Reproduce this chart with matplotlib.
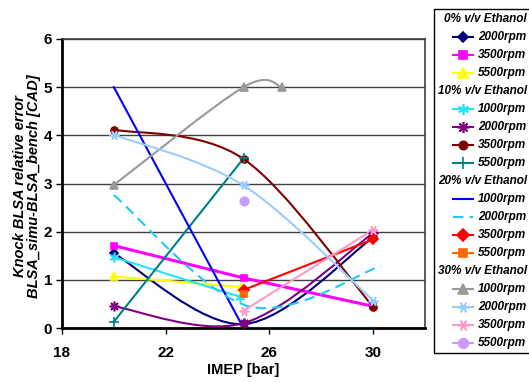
import numpy as np
import matplotlib
matplotlib.use("Agg")
import matplotlib.pyplot as plt
from matplotlib.path import Path
from matplotlib.patches import PathPatch, Rectangle
from matplotlib.lines import Line2D

plt.rcParams['font.family'] = ['Liberation Sans', 'DejaVu Sans']

# IMEP [bar] positions
imep3 = [20, 25, 30]
imep2_low = [20, 25]
imep2_high = [25, 30]
imep1 = [25]

# 0% v/v Ethanol
e0_2000 = [1.55, 0.08, 1.88]
e0_3500 = [1.71, 1.04, 0.45]
e0_5500 = [1.07, 0.85]
# 10% v/v Ethanol
e10_1000 = [1.47, 0.65]
e10_2000 = [0.45, 0.10, 1.97]
e10_3500 = [4.12, 3.51, 0.44]
e10_5500 = [0.13, 3.52]
# 20% v/v Ethanol
e20_1000 = [5.0, 0.0, 0.0]
e20_2000_x = [20, 25.2, 30.3]
e20_2000 = [2.76, 0.45, 1.29]
e20_3500 = [0.79, 1.84]
e20_5500 = [0.70]
# 30% v/v Ethanol
e30_1000_x = [20, 25, 26.5]
e30_1000 = [2.97, 5.0, 5.0]
e30_2000 = [4.01, 2.96, 0.57]
e30_3500 = [0.36, 2.04]
e30_5500 = [2.63]

groups = ['0% v/v Ethanol', '10% v/v Ethanol', '20% v/v Ethanol', '30% v/v Ethanol']

# (group, label, x, y, color, linestyle, marker, marker size, smooth)
series = [
    (0, '2000rpm', imep3, e0_2000, '#000080', '-', 'D', 4.5, True),
    (0, '3500rpm', imep3, e0_3500, '#FF00FF', '-', 's', 5, False),
    (0, '5500rpm', [20, 24.9], e0_5500, '#FFFF00', '-', '^', 6, False),
    (1, '1000rpm', [20, 24.85], e10_1000, '#22E4F2', '-', (6, 2, 0), 7, False),
    (1, '2000rpm', imep3, e10_2000, '#800080', '-', (8, 2, 0), 7, True),
    (1, '3500rpm', imep3, e10_3500, '#800000', '-', 'o', 5, True),
    (1, '5500rpm', imep2_low, e10_5500, '#008080', '-', '+', 7, False),
    (2, '1000rpm', imep3, e20_1000, '#0000FF', '-', None, 0, False),
    (2, '2000rpm', e20_2000_x, e20_2000, '#22C8F5', (0, (5, 3)), None, 0, True),
    (2, '3500rpm', imep2_high, e20_3500, '#FF0000', '-', 'D', 5, False),
    (2, '5500rpm', imep1, e20_5500, '#FF6600', '-', 's', 5, False),
    (3, '1000rpm', e30_1000_x, e30_1000, '#999999', '-', '^', 6, True),
    (3, '2000rpm', imep3, e30_2000, '#99CCFF', '-', (6, 2, 90), 7, True),
    (3, '3500rpm', imep2_high, e30_3500, '#FF99CC', '-', (6, 2, 90), 7, False),
    (3, '5500rpm', imep1, e30_5500, '#CC99FF', '-', 'o', 6, False),
]


def smooth_path(x, y):
    # Excel-like smoothed line: Catmull-Rom converted to cubic Bezier segments
    p = np.column_stack([x, y]).astype(float)
    ext = np.vstack([p[0], p, p[-1]])
    verts = [p[0]]
    codes = [Path.MOVETO]
    for i in range(1, len(ext) - 2):
        p0, p1, p2, p3 = ext[i - 1], ext[i], ext[i + 1], ext[i + 2]
        verts += [p1 + (p2 - p0) / 6, p2 - (p3 - p1) / 6, p2]
        codes += [Path.CURVE4] * 3
    return Path(verts, codes)


W, H = 529, 383
fig = plt.figure(figsize=(W / 100, H / 100), dpi=100)
ax = fig.add_axes([62 / W, 1 - 328 / H, 363 / W, 289 / H])

for g, label, x, y, color, ls, marker, ms, smooth in series:
    lw = 2.2 if color == '#FF00FF' else 1.5
    if len(x) > 1:
        if smooth:
            ax.add_patch(PathPatch(smooth_path(x, y), facecolor='none', edgecolor=color,
                                   lw=lw, linestyle=ls, zorder=3))
        else:
            ax.plot(x, y, color=color, lw=lw, linestyle=ls, zorder=3)
    if marker is not None:
        ax.plot(x, y, linestyle='none', marker=marker, ms=ms, color=color,
                mec=color, mew=1.2, zorder=4)

ax.set_xlim(18, 32)
ax.set_ylim(0, 6)
ax.set_xticks([18, 22, 26, 30])
ax.set_yticks(range(0, 7))
ax.yaxis.grid(True, color='#404040', lw=1.0)
ax.set_axisbelow(True)
for side in ['left', 'bottom']:
    ax.spines[side].set_linewidth(2)
    ax.spines[side].set_color('black')
for side in ['top', 'right']:
    ax.spines[side].set_linewidth(1.2)
    ax.spines[side].set_color('#404040')
ax.tick_params(axis='both', direction='out', length=4, width=1, pad=3,
               labelsize=11)
ax.tick_params(axis='x', pad=9)
for t in ax.get_xticklabels() + ax.get_yticklabels():
    t.set_fontweight('bold')

fig.text(243.5 / W, 1 - 370 / H, 'IMEP [bar]', ha='center', va='center',
         fontsize=10.5, fontweight='bold')
fig.text(27 / W, 1 - 186 / H, 'Knock BLSA relative error\nBLSA_simu-BLSA_bench [CAD]',
         rotation=90, ha='center', va='center', fontsize=10.5, fontweight='bold',
         fontstyle='italic', linespacing=0.95)

# legend box drawn in figure pixels (runs off the right edge as in the original)
fig.add_artist(Rectangle((434 / W, 1 - 353 / H), 120 / W, 344 / H, transform=fig.transFigure,
                         facecolor='white', edgecolor='black', lw=1.0))
row_y0, row_dy = 19, 18.0
row = 0
for gi, gname in enumerate(groups):
    yy = 1 - (row_y0 + row * row_dy) / H
    fig.text(527 / W, yy, gname, ha='right', va='center', fontsize=8.5,
             fontweight='bold', fontstyle='italic')
    row += 1
    for g, label, x, y, color, ls, marker, ms, smooth in series:
        if g != gi:
            continue
        yy = 1 - (row_y0 + row * row_dy) / H
        fig.add_artist(Line2D([453 / W, 473 / W], [yy, yy], transform=fig.transFigure,
                              color=color, lw=1.5, linestyle=ls))
        if marker is not None:
            fig.add_artist(Line2D([463 / W], [yy], transform=fig.transFigure,
                                  linestyle='none', marker=marker, ms=ms + 1, color=color,
                                  mec=color, mew=1.2))
        fig.text(478 / W, yy, label, ha='left', va='center', fontsize=8.5,
                 fontweight='bold', fontstyle='italic')
        row += 1

fig.savefig('out.png', dpi=100)
